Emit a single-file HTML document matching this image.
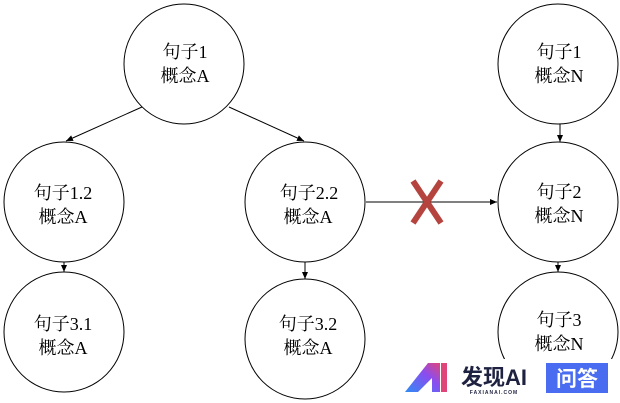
<!DOCTYPE html>
<html><head><meta charset="utf-8"><style>
body{margin:0;background:#fff;width:620px;height:403px;overflow:hidden}
svg{display:block}
text{font-family:"Liberation Serif","Noto Serif CJK SC",serif;font-size:18px;fill:#000;text-anchor:middle}
</style></head><body>
<svg width="620" height="403" viewBox="0 0 620 403">
<defs><marker id="a" markerWidth="8" markerHeight="8" refX="7" refY="4" orient="auto" markerUnits="userSpaceOnUse"><path d="M0,1 L7,4 L0,7 z" fill="#000"/></marker>
<linearGradient id="g" x1="0" y1="1" x2="1" y2="0"><stop offset="0" stop-color="#2f8cf5"/><stop offset="0.6" stop-color="#8a4df0"/><stop offset="1" stop-color="#e0457a"/></linearGradient></defs>
<g fill="none" stroke="#000" stroke-width="1">
<circle cx="184" cy="64" r="60"/>
<circle cx="558" cy="64" r="60"/>
<circle cx="64" cy="202" r="60"/>
<circle cx="305" cy="202" r="60"/>
<circle cx="558" cy="202" r="60"/>
<circle cx="64" cy="332" r="60"/>
<circle cx="305" cy="339" r="60"/>
<circle cx="558" cy="332" r="60"/>
<line x1="142" y1="107" x2="66" y2="141" marker-end="url(#a)"/>
<line x1="229" y1="107" x2="304" y2="141" marker-end="url(#a)"/>
<line x1="64" y1="262" x2="64" y2="272" marker-end="url(#a)"/>
<line x1="305" y1="262" x2="305" y2="279" marker-end="url(#a)"/>
<line x1="560" y1="124" x2="560" y2="142" marker-end="url(#a)"/>
<line x1="558" y1="262" x2="558" y2="272" marker-end="url(#a)"/>
<line x1="366" y1="202" x2="497" y2="202" marker-end="url(#a)"/>
</g>
<g stroke="#b5443f" stroke-width="6"><line x1="413" y1="181" x2="441" y2="223"/><line x1="441" y1="181" x2="413" y2="223"/></g>
<text x="185" y="58">句子1</text><text x="185" y="82">概念A</text>
<text x="559" y="58">句子1</text><text x="559" y="82">概念N</text>
<text x="63" y="199">句子1.2</text><text x="63" y="223">概念A</text>
<text x="309" y="199">句子2.2</text><text x="308" y="223">概念A</text>
<text x="559" y="198">句子2</text><text x="559" y="222">概念N</text>
<text x="63" y="330">句子3.1</text><text x="63" y="354">概念A</text>
<text x="308" y="330">句子3.2</text><text x="308" y="354">概念A</text>
<text x="559" y="326">句子3</text><text x="559" y="350">概念N</text>
<rect x="400" y="359" width="220" height="44" fill="#fff"/>
<path d="M405,392 L428,363 L440,363 L440,392 L432,392 L432,378 L418,392 Z" fill="url(#g)"/>
<rect x="441" y="363" width="6" height="29" fill="#e0457a"/>
<text x="494" y="385" style="font-family:'Liberation Sans','Noto Sans CJK SC',sans-serif;font-size:22px;font-weight:bold;fill:#1e2240">发现AI</text>
<text x="494" y="394" style="font-family:'Liberation Sans',sans-serif;font-size:5px;font-weight:bold;fill:#1e2240;letter-spacing:1px">FAXIANAI.COM</text>
<rect x="546" y="363" width="62" height="30" fill="#4a6cf0"/>
<text x="577" y="386" style="font-family:'Liberation Sans','Noto Sans CJK SC',sans-serif;font-size:21px;font-weight:bold;fill:#fff">问答</text>
</svg>
</body></html>
